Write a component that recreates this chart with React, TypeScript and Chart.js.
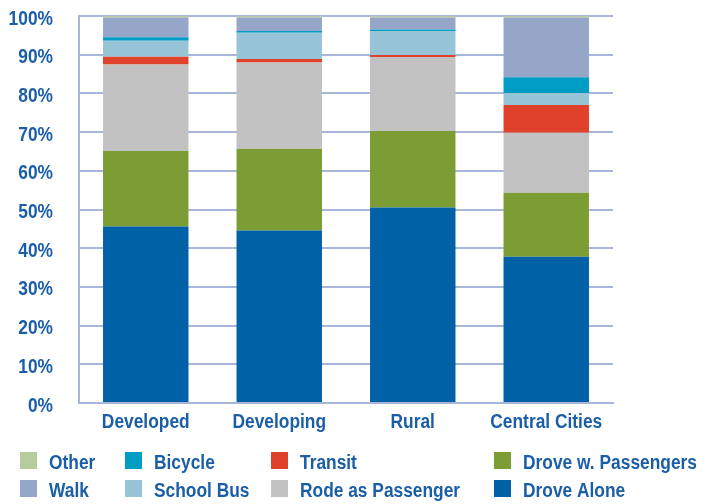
import React, { useEffect, useRef } from "react";
import { Chart, registerables } from "chart.js";

Chart.register(...registerables);

const categories = ["Developed", "Developing", "Rural", "Central Cities"];
const yTickValues = [0, 10, 20, 30, 40, 50, 60, 70, 80, 90, 100];

const droveAlone = [45.6, 44.6, 50.5, 37.8];
const droveWithPassengers = [19.5, 21.1, 19.8, 16.5];
const rodeAsPassenger = [22.4, 22.3, 19.1, 15.5];
const transit = [2.0, 0.9, 0.5, 7.2];
const schoolBus = [4.1, 6.8, 6.2, 3.1];
const bicycle = [0.9, 0.4, 0.4, 4.1];
const walk = [5.1, 3.5, 3.1, 15.4];
const other = [0.4, 0.4, 0.4, 0.4];

const seriesNames = ["Drove Alone", "Drove w. Passengers", "Rode as Passenger", "Transit", "School Bus", "Bicycle", "Walk", "Other"];
const seriesData = [droveAlone, droveWithPassengers, rodeAsPassenger, transit, schoolBus, bicycle, walk, other];
const seriesColors = ["#0061A7", "#7B9D34", "#C2C2C2", "#E0412A", "#98C4D8", "#009CC4", "#95A6C8", "#B6CC9E"];

// legend layout: columns of [top, bottom] series names
const legendColumns = [
  ["Other", "Walk"],
  ["Bicycle", "School Bus"],
  ["Transit", "Rode as Passenger"],
  ["Drove w. Passengers", "Drove Alone"],
];

const FONT = "'Liberation Sans', Arial, sans-serif";
const TEXT_COLOR = "#1B5EA8";
const GRID_COLOR = "#A8B6DA";
const SCALE_X = 0.89;

function drawText(ctx: CanvasRenderingContext2D, text: string, x: number, y: number, align: CanvasTextAlign) {
  ctx.save();
  ctx.translate(x, y);
  ctx.scale(SCALE_X, 1);
  ctx.textAlign = align;
  ctx.fillText(text, 0, 0);
  ctx.restore();
}

const labelPlugin = {
  id: "condensedLabels",
  afterDraw(chart: any) {
    const ctx: CanvasRenderingContext2D = chart.ctx;
    const xs = chart.scales.x;
    const ys = chart.scales.y;
    const area = chart.chartArea;
    ctx.save();
    ctx.fillStyle = TEXT_COLOR;
    ctx.font = `bold 19.5px ${FONT}`;
    ctx.textBaseline = "alphabetic";
    categories.forEach((c, i) => {
      drawText(ctx, c, xs.getPixelForTick(i), area.bottom + 25, "center");
    });
    yTickValues.forEach((v) => {
      drawText(ctx, v + "%", area.left - 26, ys.getPixelForValue(v) + 8.5, "right");
    });
    // legend
    const swX = [20, 125, 271, 494];
    const rowBottom = [469, 497];
    legendColumns.forEach((col, ci) => {
      col.forEach((name, ri) => {
        ctx.fillStyle = seriesColors[seriesNames.indexOf(name)];
        ctx.fillRect(swX[ci], rowBottom[ri] - 17, 17, 17);
        ctx.fillStyle = TEXT_COLOR;
        drawText(ctx, name, swX[ci] + 29, rowBottom[ri], "left");
      });
    });
    ctx.restore();
  },
};

export default function App() {
  const canvasRef = useRef<HTMLCanvasElement | null>(null);

  useEffect(() => {
    if (!canvasRef.current) return;
    const chart = new Chart(canvasRef.current, {
      type: "bar",
      data: {
        labels: categories,
        datasets: seriesNames.map((name, i) => ({
          label: name,
          data: seriesData[i],
          backgroundColor: seriesColors[i],
          borderWidth: 0,
          barPercentage: 0.64,
          categoryPercentage: 1,
        })),
      },
      options: {
        animation: false,
        responsive: false,
        maintainAspectRatio: false,
        layout: { padding: { top: 16, right: 104, left: 0, bottom: 64 } },
        plugins: {
          legend: { display: false },
          tooltip: { enabled: false },
        },
        scales: {
          x: {
            stacked: true,
            grid: { display: false, drawTicks: false },
            border: { display: true, color: GRID_COLOR, width: 2 },
            ticks: { display: false },
            afterFit: (scale: any) => {
              scale.height = 37;
            },
          },
          y: {
            stacked: true,
            min: 0,
            max: 100,
            afterBuildTicks: (scale: any) => {
              scale.ticks = yTickValues.map((v) => ({ value: v }));
            },
            grid: { color: GRID_COLOR, lineWidth: 2, drawTicks: false },
            border: { display: true, color: GRID_COLOR, width: 2 },
            ticks: { display: false },
            afterFit: (scale: any) => {
              scale.width = 79;
            },
          },
        },
      },
      plugins: [labelPlugin],
    });
    return () => chart.destroy();
  }, []);

  return (
    <div style={{ position: "fixed", left: 0, top: 0, width: 717, height: 504, background: "#fff" }}>
      <canvas ref={canvasRef} width={717} height={504} style={{ position: "absolute", left: 0, top: 0 }} />
    </div>
  );
}
